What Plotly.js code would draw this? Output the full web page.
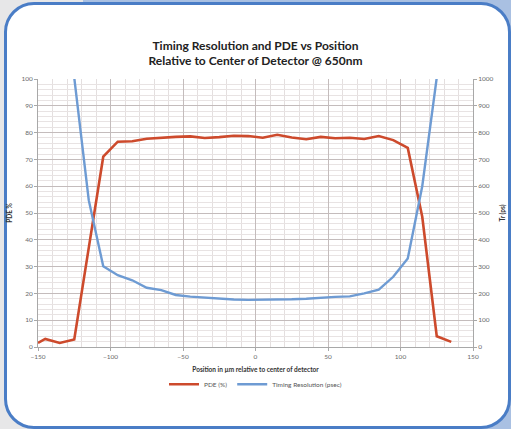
<!DOCTYPE html>
<html>
<head>
<meta charset="utf-8">
<script src="https://cdn.plot.ly/plotly-3.0.1.min.js"></script>
<style>
  html, body { margin: 0; padding: 0; }
  body {
    width: 511px; height: 429px; overflow: hidden; position: relative;
    background: linear-gradient(to right, #e7e7e8 0px, #e7e7e8 83px, #a9c0e2 83px, #a9c0e2 100%);
  }
  #frame {
    position: absolute; left: 4px; top: 2px; width: 501px; height: 421px;
    border: 3px solid #4a7dc6; border-radius: 30px; background: #ffffff;
  }
  #chart { position: absolute; left: 0; top: 0; width: 511px; height: 429px; }
</style>
</head>
<body>
<div id="frame"></div>
<div id="chart"></div>
<script>
// Position in µm relative to center of detector
const pdePositions = [-150, -145, -135, -125, -115, -105, -95, -85, -75, -65, -55, -45, -35, -25, -15, -5, 5, 15, 25, 35, 45, 55, 65, 75, 85, 95, 105, 115, 125, 135];
const pdeValues    = [1.5, 3.0, 1.5, 2.8, 37, 71, 76.6, 76.8, 77.7, 78.1, 78.4, 78.6, 78.0, 78.3, 78.8, 78.7, 78.1, 79.2, 78.2, 77.5, 78.4, 77.9, 78.1, 77.6, 78.7, 77.2, 74.3, 48.6, 4.0, 1.9];

const trPositions  = [-125, -115, -105, -95, -85, -75, -65, -55, -45, -35, -25, -15, -5, 5, 15, 25, 35, 45, 55, 65, 75, 85, 95, 105, 115, 125];
const trValues     = [1005, 548, 301, 268, 249, 221, 212, 194, 188, 184, 180, 177, 176, 176, 176, 178, 180, 184, 187, 189, 200, 214, 262, 330, 600, 1005];

const chartTitle = 'Timing Resolution and PDE vs Position<br>Relative to Center of Detector @ 650nm';
const xTitle = 'Position in µm relative to center of detector';
const yTitle = 'PDE %';
const y2Title = 'Tr (ps)';
const seriesNames = ['PDE (%)', 'Timing Resolution (psec)'];

const RED = '#cd4a2c';
const BLUE = '#6e9bd3';
const tickFont = { family: 'Lato, "Open Sans", sans-serif', size: 6.5, color: '#6a6a6a' };
const axTitleFont = { family: 'Lato, "Open Sans", sans-serif', size: 6.5, color: '#333333', weight: 'bold' };

const traces = [
  { x: pdePositions, y: pdeValues, name: seriesNames[0], type: 'scatter', mode: 'lines',
    line: { color: RED, width: 2.6 }, yaxis: 'y' },
  { x: trPositions, y: trValues, name: seriesNames[1], type: 'scatter', mode: 'lines',
    line: { color: BLUE, width: 2.4 }, yaxis: 'y2' }
];

const layout = {
  width: 511, height: 429,
  paper_bgcolor: 'rgba(0,0,0,0)', plot_bgcolor: '#ffffff',
  margin: { l: 38, r: 38, t: 79, b: 82 },
  title: { text: chartTitle, x: 0.5, xanchor: 'center', y: 0.884, yanchor: 'middle',
    font: { family: 'Lato, "Open Sans", sans-serif', size: 12, color: '#222222', weight: 'bold' } },
  xaxis: {
    range: [-150, 150], tickmode: 'linear', tick0: -150, dtick: 50,
    showgrid: true, gridcolor: '#c4bcbc', gridwidth: 1,
    minor: { dtick: 10, showgrid: true, gridcolor: '#e4dfdf', gridwidth: 1 },
    showline: true, linecolor: '#a8a8a8', linewidth: 1, zeroline: false,
    ticks: 'outside', ticklen: 3, tickcolor: '#a8a8a8',
    tickfont: tickFont,
    title: { text: xTitle, font: axTitleFont, standoff: 8 }
  },
  yaxis: {
    range: [0, 100], tickmode: 'linear', tick0: 0, dtick: 10,
    showgrid: true, gridcolor: '#c4bcbc', gridwidth: 1,
    minor: { dtick: 2, showgrid: true, gridcolor: '#e8e3e3', gridwidth: 1 },
    showline: true, linecolor: '#a8a8a8', linewidth: 1, zeroline: false,
    ticks: 'outside', ticklen: 3, tickcolor: '#a8a8a8',
    tickfont: tickFont,
    title: { text: yTitle, font: axTitleFont, standoff: 8 }
  },
  yaxis2: {
    range: [0, 1000], tickmode: 'linear', tick0: 0, dtick: 100,
    overlaying: 'y', side: 'right', showgrid: false, zeroline: false,
    showline: true, linecolor: '#a8a8a8', linewidth: 1,
    ticks: 'outside', ticklen: 3, tickcolor: '#a8a8a8',
    tickfont: tickFont,
    title: { text: y2Title, font: axTitleFont, standoff: 7 }
  },
  showlegend: true,
  legend: { orientation: 'h', x: 0.5, xanchor: 'center', y: -0.139, yanchor: 'middle',
    font: { family: 'Lato, "Open Sans", sans-serif', size: 6.5, color: '#555555' },
    bgcolor: 'rgba(0,0,0,0)', itemwidth: 30, tracegroupgap: 0 }
};

Plotly.newPlot('chart', traces, layout, { displayModeBar: false, staticPlot: true });
</script>
</body>
</html>
